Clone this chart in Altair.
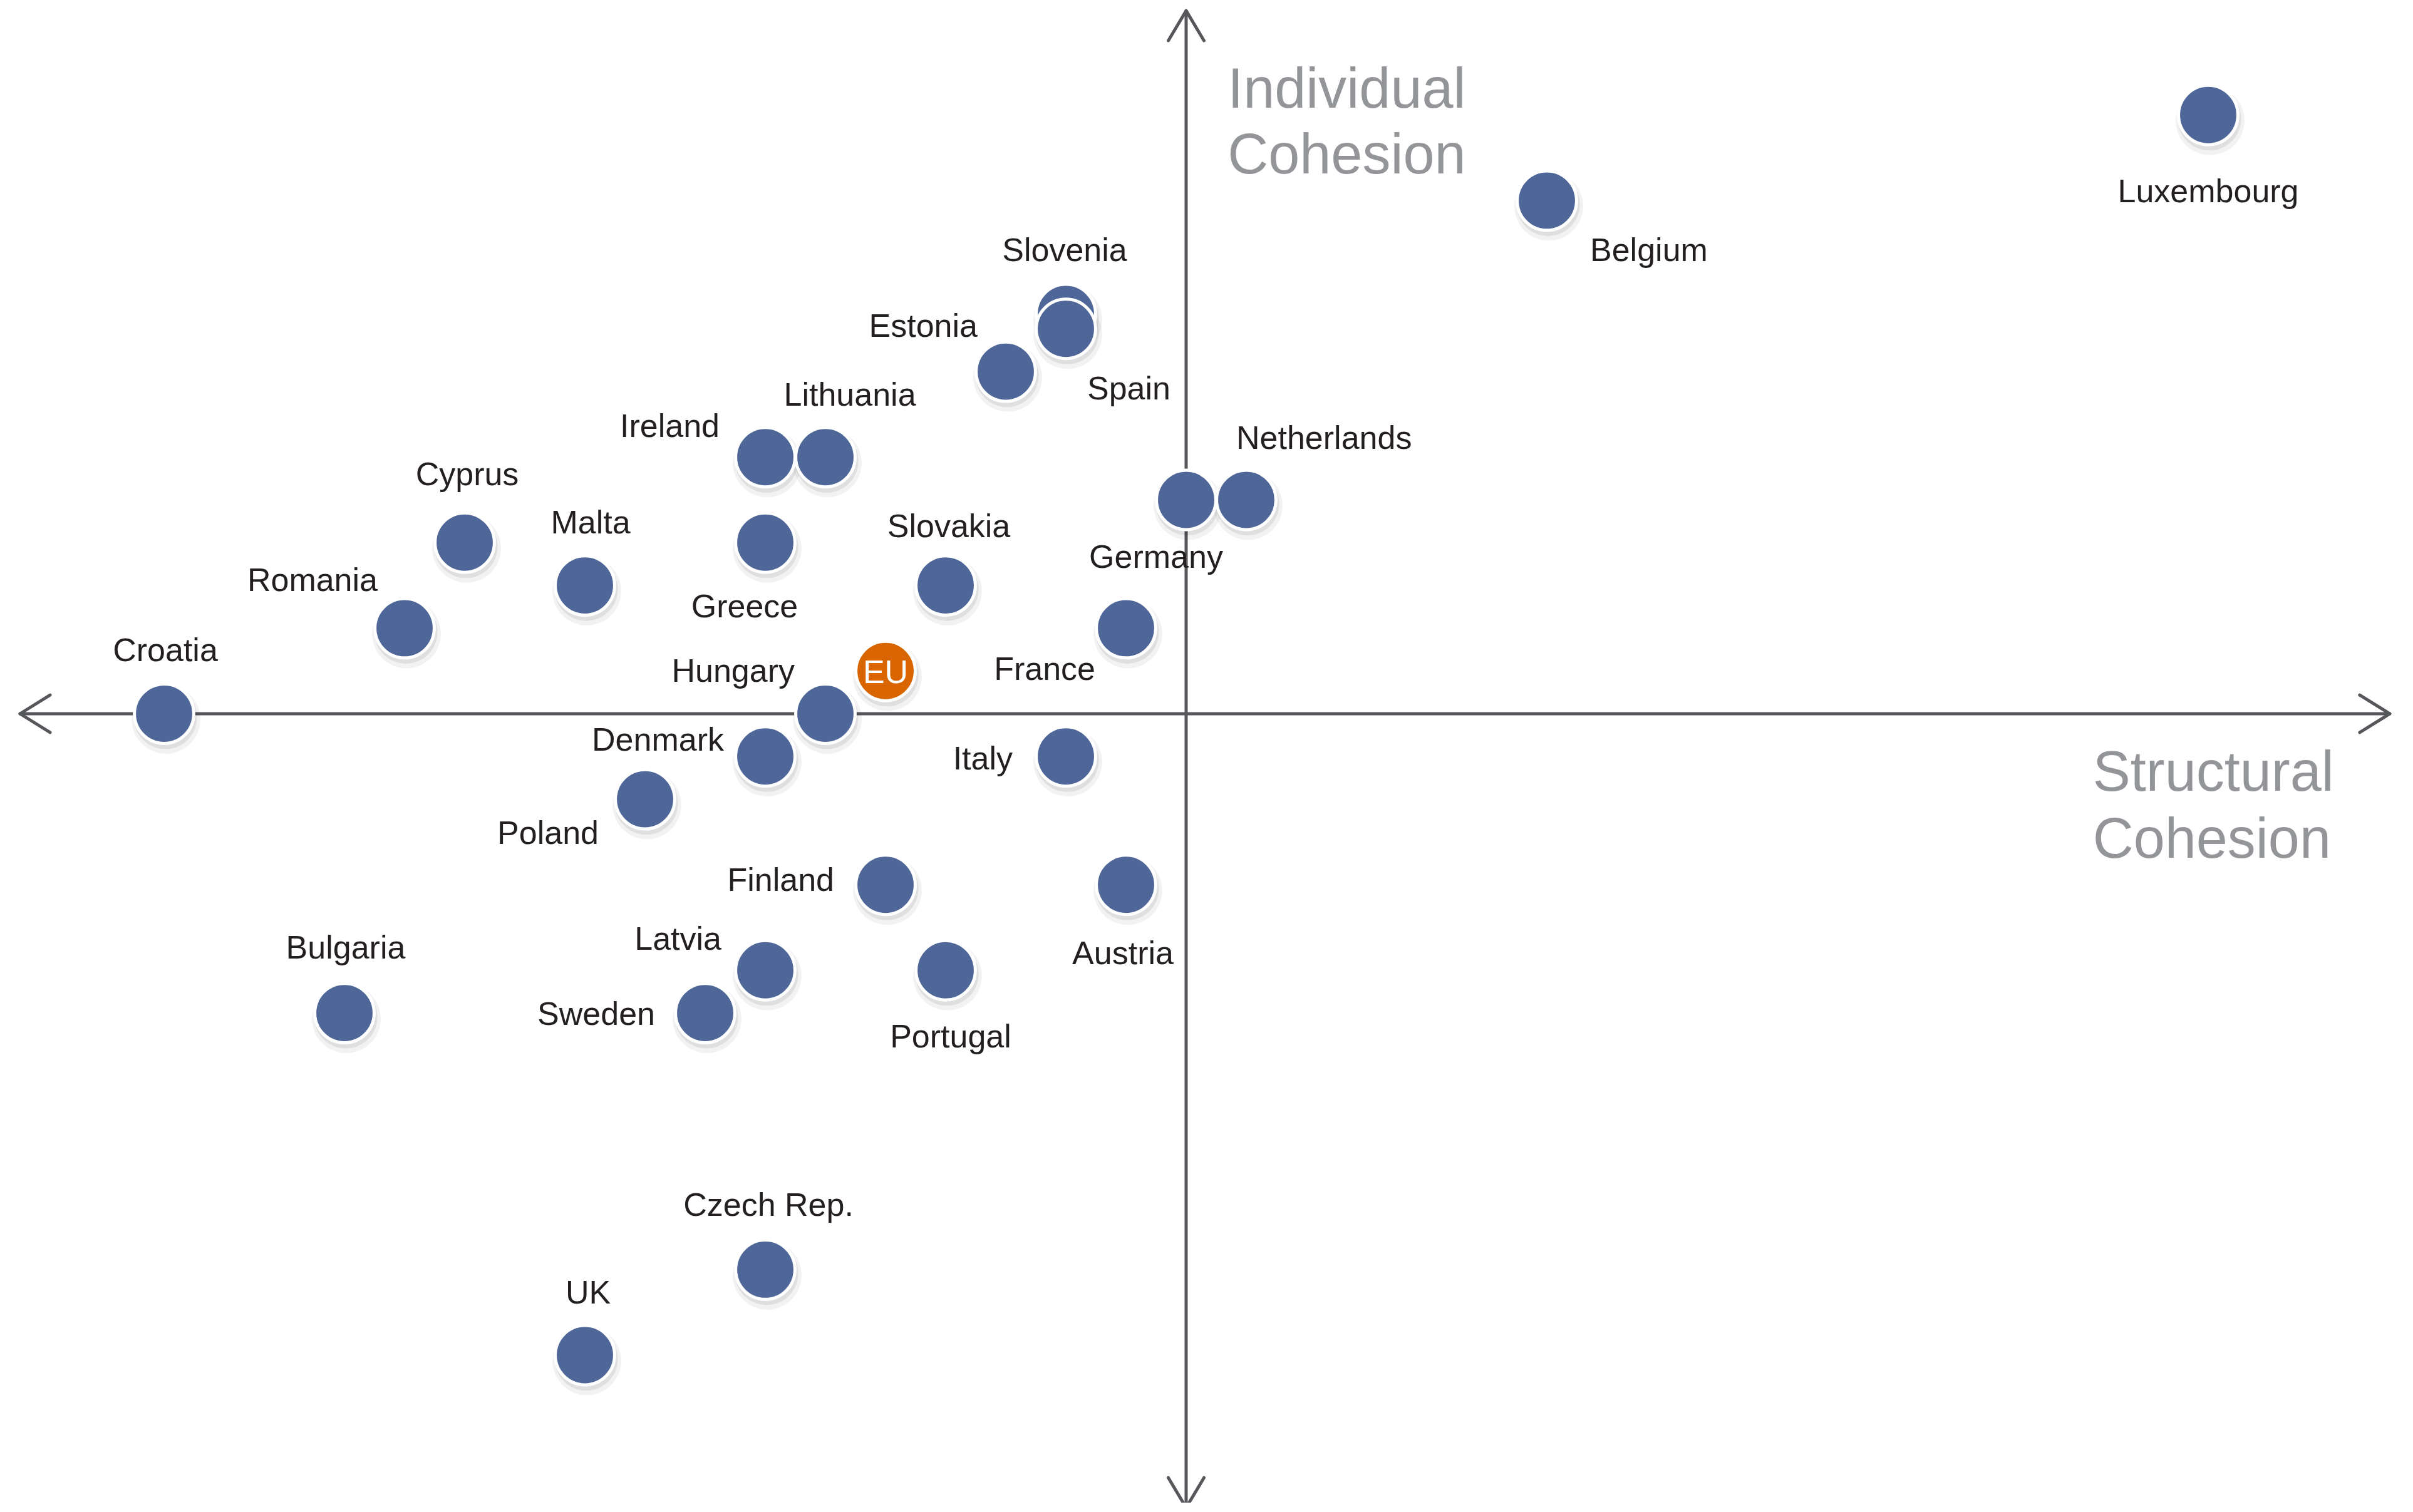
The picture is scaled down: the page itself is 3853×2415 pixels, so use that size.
import altair as alt
import pandas as pd

# ---------------- data ----------------
countries = ["Luxembourg", "Belgium", "Slovenia", "Estonia", "Spain", "Lithuania",
             "Ireland", "Germany", "Netherlands", "Cyprus", "Malta", "Greece",
             "Slovakia", "Romania", "France", "Croatia", "Denmark", "Hungary",
             "Italy", "Poland", "Finland", "Austria", "Sweden", "Latvia",
             "Portugal", "Bulgaria", "Czech Rep.", "UK", "EU"]
structural = [17, 6, -2, -3, -2, -6,
              -7, 0, 1, -12, -10, -7,
              -4, -13, -1, -17, -7, -6,
              -2, -9, -5, -1, -8, -7,
              -4, -14, -7, -10, -5]
individual = [14, 12, 9.35, 8, 9, 6,
              6, 5, 5, 4, 3, 4,
              3, 2, 2, 0, -1, 0,
              -1, -2, -4, -4, -7, -6,
              -6, -7, -13, -15, 1]

# label placement relative to each dot (pixels) - style only
label_align = {"Luxembourg": "center", "Belgium": "left", "Slovenia": "center",
               "Estonia": "right", "Spain": "left", "Lithuania": "center",
               "Ireland": "right", "Germany": "center", "Netherlands": "left",
               "Cyprus": "center", "Malta": "center", "Greece": "center",
               "Slovakia": "center", "Romania": "right", "France": "right",
               "Croatia": "center", "Denmark": "right", "Hungary": "right",
               "Italy": "right", "Poland": "right", "Finland": "right",
               "Austria": "center", "Sweden": "right", "Latvia": "right",
               "Portugal": "center", "Bulgaria": "center", "Czech Rep.": "center",
               "UK": "center", "EU": "center"}
label_dx = {"Luxembourg": 0, "Belgium": 69, "Slovenia": -2, "Estonia": -45,
            "Spain": 34, "Lithuania": 39, "Ireland": -73, "Germany": -48,
            "Netherlands": -16, "Cyprus": 4, "Malta": 9, "Greece": -33,
            "Slovakia": 5, "Romania": -43, "France": -49, "Croatia": 2,
            "Denmark": -66, "Hungary": -49, "Italy": -85, "Poland": -74,
            "Finland": -82, "Austria": -5, "Sweden": -80, "Latvia": -70,
            "Portugal": 8, "Bulgaria": 2, "Czech Rep.": 5, "UK": 5, "EU": 0}
label_dy = {"Luxembourg": 139, "Belgium": 97, "Slovenia": -84, "Estonia": -56,
            "Spain": 113, "Lithuania": -82, "Ireland": -32, "Germany": 108,
            "Netherlands": -82, "Cyprus": -92, "Malta": -83, "Greece": 119,
            "Slovakia": -77, "Romania": -59, "France": 83, "Croatia": -84,
            "Denmark": -9, "Hungary": -51, "Italy": 21, "Poland": 71,
            "Finland": 10, "Austria": 127, "Sweden": 19, "Latvia": -33,
            "Portugal": 123, "Bulgaria": -87, "Czech Rep.": -86, "UK": -83, "EU": 19}

x_title = ["Structural", "Cohesion"]
y_title = ["Individual", "Cohesion"]

# ---------------- layout ----------------
W, H = 3830, 2392
X_DOMAIN = [-19.646, 20.25]
Y_DOMAIN = [-18.448, 16.574]
PX_X = W / (X_DOMAIN[1] - X_DOMAIN[0])
PX_Y = H / (Y_DOMAIN[1] - Y_DOMAIN[0])

FONT = "Liberation Sans, Arial, sans-serif"
BLUE = "#4f6798"
ORANGE = "#d96500"
AXIS = "#56575b"
TITLE_GRAY = "#939598"
LABEL_SIZE = 52
TITLE_SIZE = 90

df = pd.DataFrame({
    "country": countries,
    "structural": structural,
    "individual": individual,
})
df["order"] = range(len(df))
df["align"] = df["country"].map(label_align)
df["dx"] = df["country"].map(label_dx)
df["dy"] = df["country"].map(label_dy)
df["group"] = ["EU" if c == "EU" else "country" for c in countries]

xs = alt.Scale(domain=X_DOMAIN, nice=False, zero=False)
ys = alt.Scale(domain=Y_DOMAIN, nice=False, zero=False)

base = alt.Chart(df)

# axis lines
axes_df = pd.DataFrame({
    "x1": [-19.396, 0.0], "x2": [20.02, 0.0],
    "y1": [0.0, 16.44], "y2": [0.0, -18.565],
})
axes = alt.Chart(axes_df).mark_rule(color=AXIS, strokeWidth=5).encode(
    x=alt.X("x1:Q", scale=xs, axis=None), x2="x2:Q",
    y=alt.Y("y1:Q", scale=ys, axis=None), y2="y2:Q",
)

# arrow heads (chevrons), in axis units
ax, ay = 0.5, 0.439
bx, by = 0.297, 0.70
heads_df = pd.DataFrame({
    "x1": [-19.396, -19.396, 20.02, 20.02, 0, 0, 0, 0],
    "y1": [0, 0, 0, 0, 16.44, 16.44, -18.565, -18.565],
    "x2": [-19.396 + ax, -19.396 + ax, 20.02 - ax, 20.02 - ax, -bx, bx, -bx, bx],
    "y2": [ay, -ay, ay, -ay, 16.44 - by, 16.44 - by, -18.565 + by, -18.565 + by],
})
heads = alt.Chart(heads_df).mark_rule(color=AXIS, strokeWidth=5, strokeCap="round").encode(
    x=alt.X("x1:Q", scale=xs, axis=None), x2="x2:Q",
    y=alt.Y("y1:Q", scale=ys, axis=None), y2="y2:Q",
)

# axis titles
titles_df = pd.DataFrame({
    "text": x_title + y_title,
    "x": [15.08, 15.08, 0.69, 0.69],
    "y": [-1.80, -3.37, 14.17, 12.64],
})
titles = alt.Chart(titles_df).mark_text(
    font=FONT, fontSize=TITLE_SIZE, color=TITLE_GRAY, align="left", baseline="alphabetic"
).encode(
    x=alt.X("x:Q", scale=xs, axis=None),
    y=alt.Y("y:Q", scale=ys, axis=None),
    text="text:N",
)

enc = dict(
    x=alt.X("structural:Q", scale=xs, axis=None),
    y=alt.Y("individual:Q", scale=ys, axis=None),
    order=alt.Order("order:Q"),
)

shadow1 = base.mark_circle(color="#000000", opacity=0.05, size=3.1416 * 62 ** 2,
                           xOffset=3, yOffset=9).encode(**enc)
shadow2 = base.mark_circle(color="#000000", opacity=0.08, size=3.1416 * 57 ** 2,
                           xOffset=2, yOffset=6).encode(**enc)

dots = base.mark_point(filled=True, shape="circle", size=3.1416 * 53.5 ** 2,
                       stroke="white", strokeWidth=5, opacity=1, strokeOpacity=1,
                       fillOpacity=1).encode(
    color=alt.Color("group:N", scale=alt.Scale(domain=["country", "EU"],
                                               range=[BLUE, ORANGE]), legend=None),
    **enc,
)

label_layers = []
for al in ["left", "center", "right"]:
    lay = base.transform_filter(
        (alt.datum.align == al) & (alt.datum.country != "EU")
    ).transform_calculate(
        lx=f"datum.structural + datum.dx / {PX_X}",
        ly=f"datum.individual - datum.dy / {PX_Y}",
    ).mark_text(font=FONT, fontSize=LABEL_SIZE, color="#231f20", align=al,
                baseline="alphabetic").encode(
        x=alt.X("lx:Q", scale=xs, axis=None),
        y=alt.Y("ly:Q", scale=ys, axis=None),
        text="country:N",
    )
    label_layers.append(lay)

eu_label = base.transform_filter(alt.datum.country == "EU").transform_calculate(
    lx=f"datum.structural + datum.dx / {PX_X}",
    ly=f"datum.individual - datum.dy / {PX_Y}",
).mark_text(font=FONT, fontSize=LABEL_SIZE, color="white", align="center",
            baseline="alphabetic").encode(
    x=alt.X("lx:Q", scale=xs, axis=None),
    y=alt.Y("ly:Q", scale=ys, axis=None),
    text="country:N",
)

chart = alt.layer(
    axes, heads, titles, shadow1, shadow2, dots, *label_layers, eu_label
).properties(
    width=W, height=H, padding=0,
    autosize=alt.AutoSizeParams(type="none"),
    background="white",
).configure_view(stroke=None)

chart.save("out.html", embed_options={"renderer": "svg", "actions": False})
